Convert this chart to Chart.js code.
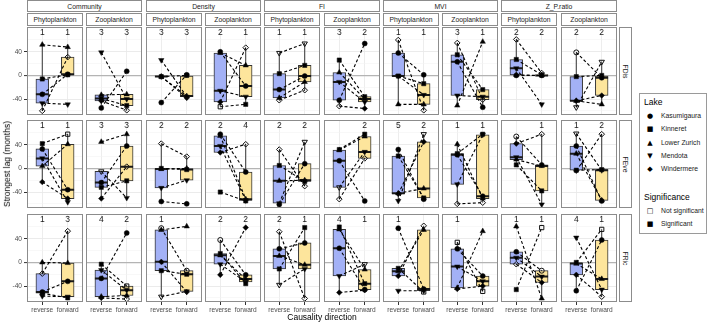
<!DOCTYPE html>
<html><head><meta charset="utf-8">
<script src="https://cdn.jsdelivr.net/npm/chart.js@4.4.1/dist/chart.umd.min.js"></script>
<style>
html,body{margin:0;padding:0;background:#fff;}
body{width:709px;height:323px;overflow:hidden;position:relative;font-family:"Liberation Sans",Arial,sans-serif;}
.strip{position:absolute;box-sizing:border-box;border:1px solid #8c8c8c;background:#fff;color:#1a1a1a;font-size:6.8px;display:flex;align-items:center;justify-content:center;white-space:nowrap;overflow:hidden;}
.t{position:absolute;white-space:nowrap;}
canvas{position:absolute;}
</style></head><body>
<script>
// ---------- categories ----------
const LAKES = ['Kasumigaura','Kinneret','Lower Zurich','Mendota','Windermere'];
const MEASURES = ['Community','Density','FI','MVI','Z_P.ratio'];
const GROUPS = ['Phytoplankton','Zooplankton'];
const INDICES = ['FDis','FEve','FRic'];
const DIRECTIONS = ['reverse','forward'];
const Y_TICKS = [-40, 0, 40];

// ---------- values: one entry per panel (Community-Phyto, Community-Zoo, Density-Phyto, ...), lakes in LAKES order ----------
const fdisReverse = [[-32,-6,52,-47,-60],[-55,-39,-33,39,-43],[-46,-2,-2,26,-2],[40,-53,38,-26,-45],[-24,3,-38,38,-42],
  [-42,26,5,-11,-52],[38,-1,-49,-1,60],[23,35,-51,-34,55],[0,27,1,12,61],[39,-2,-43,-54,-43]];
const fdisForward = [[2,1,48,-49,31],[7,-51,-32,-40,-59],[1,0,-35,-36,-38],[-18,-49,17,-36,47],[-1,17,-11,54,-25],
  [54,-36,-40,-45,-56],[1,-14,-49,-33,-59],[-54,-24,57,-36,-41],[0,1,0,-49,4],[-4,0,-49,23,-34]];
const feveReverse = [[33,42,4,17,-23],[-24,-32,45,-5,-51],[-56,0,-1,-33,42],[58,-40,55,38,27],[-61,5,-21,-59,32],
  [13,32,31,-32,-52],[32,21,-42,-55,-43],[23,25,41,-27,-60],[54,6,15,19,42],[38,-3,25,59,-4]];
const feveForward = [[-36,58,41,-57,-51],[38,-21,58,-50,3],[-60,-2,0,-20,20],[-6,-55,-52,-54,41],[8,-22,-20,45,-30],
  [-55,58,54,28,17],[-52,-50,-34,58,45],[-47,58,-51,57,-58],[6,-38,4,-61,58],[-55,-2,-54,-3,58]];
const fricReverse = [[-50,-52,0,-57,-19],[-27,-3,-58,-13,-60],[58,-14,55,-58,1],[38,15,12,-3,-21],[23,-11,11,-38,52],
  [24,60,56,-23,-51],[58,-10,-15,-48,-23],[23,34,-43,-7,-45],[18,-46,61,8,-3],[-48,0,-2,42,-21]];
const fricForward = [[-32,-60,-1,-58,53],[50,-40,-56,-47,-62],[-14,-20,61,-49,-50],[-21,-36,-28,-33,59],[33,59,-4,-11,-61],
  [-46,-36,-12,-3,-47],[-45,-50,55,-48,62],[-23,-49,53,-32,-40],[-14,59,-61,-24,-34],[38,56,-28,-46,-58]];

// significance per lake (1 = significant, 0 = not significant)
const fdisReverseSig = ['11110','11111','11111','10111','11100','11110','11110','11110','11110','01101'];
const fdisForwardSig = ['11110','11110','11111','11110','11100','11111','11110','11110','11110','11101'];
const feveReverseSig = ['11111','11101','11110','11111','11110','11100','11111','11110','01111','11101'];
const feveForwardSig = ['10111','11110','11110','11110','11100','11110','11101','11110','11110','11110'];
const fricReverseSig = ['11110','11111','01101','01111','11100','11111','11111','10111','11110','11111'];
const fricForwardSig = ['11110','10110','01111','11111','11110','11101','10110','10111','00111','10110'];

// count labels above each box
const fdisReverseN = ['1','3','3','2','1','3','1','3','2','2'];
const fdisForwardN = ['1','3','3','1','1','2','1','1','2','2'];
const feveReverseN = ['1','3','2','2','2','','5','1','','1'];
const feveForwardN = ['1','3','2','4','2','2','2','1','1','2'];
const fricReverseN = ['1','4','1','2','2','4','1','1','1','4'];
const fricForwardN = ['3','2','','2','1','1','','','1','1'];

const REV = [fdisReverse, feveReverse, fricReverse];
const FWD = [fdisForward, feveForward, fricForward];
const REV_SIG = [fdisReverseSig, feveReverseSig, fricReverseSig];
const FWD_SIG = [fdisForwardSig, feveForwardSig, fricForwardSig];
const REV_N = [fdisReverseN, feveReverseN, fricReverseN];
const FWD_N = [fdisForwardN, feveForwardN, fricForwardN];

// ---------- layout / style ----------
const FONT = '"Liberation Sans", Arial, sans-serif';
const PANEL_W = 56, PANEL_H = 88, LEFT0 = 27, PITCH = 59.3;
const ROW_TOPS = [27, 120, 214];
const AXIS_W = 27, XAXIS_H = 16;
const BOX_COLORS = ['#a3b1f6', '#fde59c'];
const POINT_STYLES = ['circle','rect','triangle','triangle','rectRot'];
const POINT_ROT = [0,0,0,180,0];
const POINT_R = [2.5,3.0,3.1,3.1,2.8];
const panelLeft = i => Math.round(LEFT0 + i * PITCH);

function addText(str, x, yc, size, extra) {
  const d = document.createElement('div');
  d.className = 't';
  d.textContent = str;
  d.style.left = x + 'px';
  d.style.top = (yc - size * 0.6) + 'px';
  d.style.fontSize = size + 'px';
  d.style.lineHeight = (size * 1.2) + 'px';
  if (extra) Object.assign(d.style, extra);
  document.body.appendChild(d);
  return d;
}
function addStrip(str, left, top, w, h, vertical) {
  const d = document.createElement('div');
  d.className = 'strip';
  Object.assign(d.style, {left: left + 'px', top: top + 'px', width: w + 'px', height: h + 'px'});
  const s = document.createElement('span');
  s.textContent = str;
  if (vertical) { s.style.transform = 'rotate(90deg)'; s.style.display = 'inline-block'; }
  d.appendChild(s);
  document.body.appendChild(d);
}

function boxStats(vals) {
  const s = [...vals].sort((a, b) => a - b);
  const q = p => { const h = (s.length - 1) * p, lo = Math.floor(h), hi = Math.min(lo + 1, s.length - 1); return s[lo] + (h - lo) * (s[hi] - s[lo]); };
  const q1 = q(0.25), med = q(0.5), q3 = q(0.75), iqr = q3 - q1;
  const lo = Math.min(...s.filter(v => v >= q1 - 1.5 * iqr));
  const hi = Math.max(...s.filter(v => v <= q3 + 1.5 * iqr));
  return {q1, med, q3, lo, hi};
}

const gridColor = c => { const v = c.tick ? c.tick.value : null; if (v === 0) return '#b4b4b4'; if (v % 40 === 0) return '#e9e9e9'; return '#f4f4f4'; };
const gridWidth = c => { const v = c.tick ? c.tick.value : null; if (v === 0) return 1.2; if (v % 40 === 0) return 0.9; return 0.6; };

function makePanel(r, c) {
  const rev = REV[r][c], fwd = FWD[r][c];
  const rs = REV_SIG[r][c], fs = FWD_SIG[r][c];
  const isLeft = c === 0, isBottom = r === 2;
  const cw = PANEL_W + (isLeft ? AXIS_W : 0);
  const ch = PANEL_H + (isBottom ? XAXIS_H : 0);
  const cv = document.createElement('canvas');
  cv.width = cw; cv.height = ch;
  cv.style.width = cw + 'px'; cv.style.height = ch + 'px';
  cv.style.left = (isLeft ? panelLeft(0) - AXIS_W : panelLeft(c)) + 'px';
  cv.style.top = ROW_TOPS[r] + 'px';
  document.body.appendChild(cv);

  const b1 = boxStats(rev), b2 = boxStats(fwd);
  const datasets = [];
  // points
  LAKES.forEach((lake, l) => {
    datasets.push({
      type: 'scatter', label: lake, order: 0,
      data: [{x: 1, y: rev[l]}, {x: 2, y: fwd[l]}],
      pointStyle: POINT_STYLES[l], rotation: POINT_ROT[l], pointRadius: POINT_R[l],
      backgroundColor: [rs[l] === '1' ? '#000' : 'rgba(255,255,255,0)', fs[l] === '1' ? '#000' : 'rgba(255,255,255,0)'],
      borderColor: ['#111', '#111'],
      borderWidth: [rs[l] === '1' ? 0.5 : 1, fs[l] === '1' ? 0.5 : 1],
      showLine: false
    });
  });
  // dashed connections
  LAKES.forEach((lake, l) => {
    datasets.push({
      type: 'line', label: lake + ' link', order: 1,
      data: [{x: 1, y: rev[l]}, {x: 2, y: fwd[l]}],
      borderColor: '#000', borderWidth: 1.1, borderDash: [3, 2.2], pointRadius: 0, fill: false
    });
  });
  // medians
  datasets.push({
    type: 'line', label: 'median', order: 2,
    data: [{x: 0.75, y: b1.med}, {x: 1.25, y: b1.med}, {x: 1.5, y: null}, {x: 1.75, y: b2.med}, {x: 2.25, y: b2.med}],
    borderColor: '#1a1a1a', borderWidth: 2, pointRadius: 0, spanGaps: false, fill: false
  });
  // whiskers
  datasets.push({
    type: 'line', label: 'whiskers', order: 3,
    data: [{x: 1, y: b1.lo}, {x: 1, y: b1.q1}, {x: 1, y: null}, {x: 1, y: b1.q3}, {x: 1, y: b1.hi}, {x: 1.5, y: null},
           {x: 2, y: b2.lo}, {x: 2, y: b2.q1}, {x: 2, y: null}, {x: 2, y: b2.q3}, {x: 2, y: b2.hi}],
    borderColor: '#333', borderWidth: 1, pointRadius: 0, spanGaps: false, fill: false
  });
  // boxes
  datasets.push({
    type: 'bar', label: 'box', order: 4,
    data: [{x: 1, y: [b1.q1, b1.q3]}, {x: 2, y: [b2.q1, b2.q3]}],
    backgroundColor: BOX_COLORS, borderColor: '#333', borderWidth: 1, borderSkipped: false,
    barThickness: 0.5 / 2.2 * PANEL_W
  });

  const deco = {
    id: 'deco' + r + c,
    afterDatasetsDraw(chart) {
      const {ctx, scales: {x, y}} = chart;
      ctx.save();
      ctx.fillStyle = '#1a1a1a';
      ctx.font = '8.5px ' + FONT;
      ctx.textAlign = 'center'; ctx.textBaseline = 'middle';
      [REV_N[r][c], FWD_N[r][c]].forEach((t, i) => { if (t) ctx.fillText(t, x.getPixelForValue(i + 1), y.getPixelForValue(72)); });
      ctx.restore();
    },
    afterDraw(chart) {
      const a = chart.chartArea, ctx = chart.ctx;
      ctx.save();
      ctx.strokeStyle = '#8c8c8c'; ctx.lineWidth = 1;
      ctx.strokeRect(a.left + 0.5, a.top + 0.5, a.right - a.left - 1, a.bottom - a.top - 1);
      ctx.restore();
    }
  };

  const zeroPad = s => { s.paddingLeft = 0; s.paddingRight = 0; s.paddingTop = 0; s.paddingBottom = 0; };

  new Chart(cv, {
    type: 'scatter',
    data: {datasets},
    options: {
      responsive: false, animation: false, events: [],
      layout: {padding: 0, autoPadding: false},
      plugins: {legend: {display: false}, tooltip: {enabled: false}},
      scales: {
        x: {
          type: 'linear', min: 0.4, max: 2.6, offset: false, position: 'bottom',
          afterBuildTicks: s => { s.ticks = [{value: 1}, {value: 2}]; },
          afterFit: s => { s.height = isBottom ? XAXIS_H : 0; zeroPad(s); },
          border: {display: false},
          grid: {color: '#ebebeb', lineWidth: 0.9, drawTicks: isBottom, tickLength: 3, tickColor: '#333', tickWidth: 1, offset: false},
          ticks: {display: isBottom, padding: 1, color: '#4d4d4d', font: {family: FONT, size: 6.6}, maxRotation: 0, autoSkip: false,
                  callback: v => v === 1 ? DIRECTIONS[0] : (v === 2 ? DIRECTIONS[1] : '')}
        },
        y: {
          type: 'linear', min: -67, max: 82, position: 'left',
          afterBuildTicks: s => { s.ticks = [-60, -40, -20, 0, 20, 40, 60].map(v => ({value: v})); },
          afterFit: s => { s.width = isLeft ? AXIS_W : 0; zeroPad(s); },
          border: {display: false},
          grid: {color: gridColor, lineWidth: gridWidth, drawTicks: isLeft, tickLength: 3,
                 tickColor: cx => (cx.tick && Y_TICKS.includes(cx.tick.value)) ? '#333' : 'rgba(0,0,0,0)', tickWidth: 1},
          ticks: {display: isLeft, padding: 2, color: '#4d4d4d', font: {family: FONT, size: 6.6},
                  callback: v => Y_TICKS.includes(v) ? String(v) : ''}
        }
      }
    },
    plugins: [deco]
  });
}

// strips
MEASURES.forEach((m, g) => {
  const l = panelLeft(2 * g), rgt = panelLeft(2 * g + 1) + PANEL_W;
  addStrip(m, l, 0, rgt - l, 12);
});
for (let c = 0; c < 10; c++) addStrip(GROUPS[c % 2], panelLeft(c), 13, PANEL_W, 13);
INDICES.forEach((ix, r) => addStrip(ix, 619, ROW_TOPS[r], 13, PANEL_H, true));

for (let r = 0; r < 3; r++) for (let c = 0; c < 10; c++) makePanel(r, c);

// axis titles
addText('Causality direction', 322, 317, 8.5, {transform: 'translateX(-50%)', color: '#000'});
addText('Strongest lag (months)', 7, 164.5, 8.5, {transform: 'translate(-50%,0) rotate(-90deg)', color: '#000'});

// legend
const lg = document.createElement('div');
Object.assign(lg.style, {position: 'absolute', left: '639px', top: '93px', width: '68px', height: '141px', boxSizing: 'border-box', border: '1px solid #9a9a9a', background: '#fff'});
document.body.appendChild(lg);
addText('Lake', 644, 102, 8.5, {color: '#000'});
const SYMS = ['\u25CF', '\u25A0', '\u25B2', '\u25BC', '\u25C6'];
const LY = [116, 129, 142.7, 156, 169];
LAKES.forEach((lake, i) => {
  addText(SYMS[i], 650, LY[i], 7, {transform: 'translateX(-50%)', fontFamily: '"DejaVu Sans"', color: '#000'});
  addText(lake, 661, LY[i], 6.8, {color: '#1a1a1a'});
});
addText('Significance', 644, 196.7, 8.5, {color: '#000'});
addText('\u25A1', 650, 211, 7, {transform: 'translateX(-50%)', fontFamily: '"DejaVu Sans"', color: '#000'});
addText('Not significant', 661, 211, 6.8, {color: '#1a1a1a'});
addText('\u25A0', 650, 224, 7, {transform: 'translateX(-50%)', fontFamily: '"DejaVu Sans"', color: '#000'});
addText('Significant', 661, 224, 6.8, {color: '#1a1a1a'});
</script>
</body></html>
